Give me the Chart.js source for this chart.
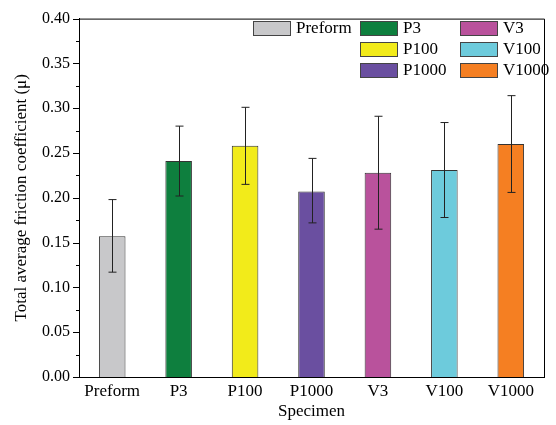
<!DOCTYPE html>
<html>
<head>
<meta charset="utf-8">
<script src="https://cdn.jsdelivr.net/npm/chart.js@4/dist/chart.umd.min.js"></script>
<style>
  html, body { margin: 0; padding: 0; background: #fff; }
  #wrap { width: 556px; height: 425px; }
</style>
</head>
<body>
<div id="wrap"><canvas id="bar"></canvas></div>
<script>
// data
const categories = ['Preform', 'P3', 'P100', 'P1000', 'V3', 'V100', 'V1000']
const friction = [0.157, 0.241, 0.258, 0.207, 0.228, 0.231, 0.260]
const errUpper = [0.198, 0.280, 0.301, 0.244, 0.291, 0.284, 0.314]
const errLower = [0.117, 0.202, 0.215, 0.172, 0.165, 0.178, 0.206]
const colors = ['#c8c8ca', '#0e7f3e', '#f2eb1a', '#6a4fa0', '#b9529c', '#6dcbdc', '#f57f22']
const yTicks = [0, 0.05, 0.10, 0.15, 0.20, 0.25, 0.30, 0.35, 0.40]

const serif = '"Liberation Serif", "Times New Roman", serif'

// frame, minor ticks, error bars
const extras = {
  id: 'extras',
  afterDatasetsDraw(chart) {
    const ctx = chart.ctx
    const a = chart.chartArea
    const x = chart.scales.x
    const y = chart.scales.y
    ctx.save()
    ctx.lineWidth = 1
    // error bars
    ctx.strokeStyle = '#222'
    friction.forEach((v, i) => {
      const cx = Math.round(x.getPixelForValue(i)) + 0.5
      const top = y.getPixelForValue(errUpper[i])
      const bot = y.getPixelForValue(errLower[i])
      ctx.beginPath()
      ctx.moveTo(cx, top); ctx.lineTo(cx, bot)
      ctx.moveTo(cx - 4, top); ctx.lineTo(cx + 4, top)
      ctx.moveTo(cx - 4, bot); ctx.lineTo(cx + 4, bot)
      ctx.stroke()
    })
    // box
    ctx.strokeStyle = '#000'
    ctx.beginPath()
    ctx.moveTo(a.left, a.top + 0.5); ctx.lineTo(a.right + 0.5, a.top + 0.5)
    ctx.lineTo(a.right + 0.5, a.bottom)
    ctx.stroke()
    // y ticks, major + minor
    for (let k = 0; k <= 16; k++) {
      const py = Math.round(y.getPixelForValue(k * 0.025)) + 0.5
      const len = k % 2 === 0 ? 6 : 3
      ctx.beginPath()
      ctx.moveTo(a.left - len, py); ctx.lineTo(a.left, py)
      ctx.stroke()
    }
    ctx.restore()
  }
}

// legend laid out in three columns like the original
const legendBoxes = {
  id: 'legendBoxes',
  afterDraw(chart) {
    const ctx = chart.ctx
    const cols = [[0], [1, 2, 3], [4, 5, 6]]
    const colX = [253, 360, 460]
    const rowY = [21, 42, 63]
    ctx.save()
    ctx.font = '17px ' + serif
    ctx.textBaseline = 'middle'
    cols.forEach((col, c) => {
      col.forEach((idx, r) => {
        const bx = colX[c], by = rowY[r]
        ctx.fillStyle = colors[idx]
        ctx.fillRect(bx, by, 37, 14)
        ctx.strokeStyle = '#444'
        ctx.lineWidth = 1
        ctx.strokeRect(bx + 0.5, by + 0.5, 37, 14)
        ctx.fillStyle = '#000'
        ctx.fillText(categories[idx], bx + 43, by + 8)
      })
    })
    ctx.restore()
  }
}

const barCtx = document.getElementById('bar')
const bar = new Chart(barCtx, {
  type: 'bar',
  data: {
    labels: categories,
    datasets: [
      {
        label: 'Friction',
        data: friction,
        backgroundColor: colors,
        borderColor: '#333',
        borderWidth: 1,
        barPercentage: 0.4,
        categoryPercentage: 1,
      },
    ],
  },
  options: {
    responsive: true,
    maintainAspectRatio: false,
    animation: false,
    layout: { padding: { top: 16, right: 12, left: 0, bottom: 0 } },
    plugins: {
      legend: { display: false },
      tooltip: { enabled: false },
    },
    scales: {
      x: {
        grid: { display: false, drawTicks: false },
        border: { display: true, color: '#000', width: 1 },
        ticks: { color: '#000', font: { family: serif, size: 17 }, padding: 4 },
        title: {
          display: true,
          text: 'Specimen',
          color: '#000',
          font: { family: serif, size: 17 },
          padding: { top: 0, bottom: 3 },
        },
        afterFit(s) { s.height = 48 },
      },
      y: {
        min: 0,
        max: 0.4,
        grid: { display: false, drawTicks: false },
        border: { display: true, color: '#000', width: 1 },
        afterBuildTicks(s) { s.ticks = yTicks.map((v) => ({ value: v })) },
        ticks: {
          color: '#000',
          font: { family: serif, size: 16 },
          padding: 9,
          callback: (v) => Number(v).toFixed(2),
        },
        title: {
          display: true,
          text: 'Total average friction coefficient (μ)',
          color: '#000',
          font: { family: serif, size: 17 },
          padding: { top: 11, bottom: 0 },
        },
        afterFit(s) { s.width = 79 },
      },
    },
  },
  plugins: [extras, legendBoxes],
})
</script>
</body>
</html>
